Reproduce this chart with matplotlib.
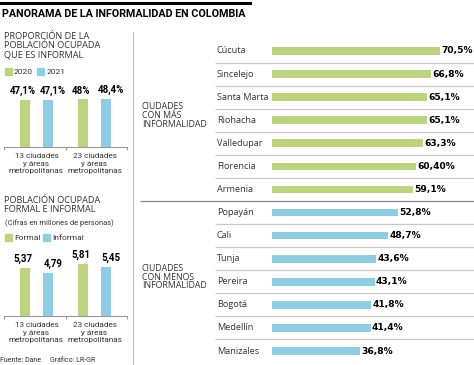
import matplotlib
matplotlib.use('Agg')
import matplotlib.pyplot as plt
import numpy as np

GREEN = '#bcd37f'
BLUE = '#8fcde3'
GREY = '#c8c8c8'

W, H = 474, 365

# left panel data
groups = ['13 ciudades\ny áreas\nmetropolitanas', '23 ciudades\ny áreas\nmetropolitanas']
inf_2020 = [47.1, 48.0]
inf_2021 = [47.1, 48.4]
inf_2020_lbl = ['47,1%', '48%']
inf_2021_lbl = ['47,1%', '48,4%']

formal = [5.37, 5.81]
informal = [4.79, 5.45]
formal_lbl = ['5,37', '5,81']
informal_lbl = ['4,79', '5,45']

# right panel data
cities_more = ['Cúcuta', 'Sincelejo', 'Santa Marta', 'Riohacha', 'Valledupar', 'Florencia', 'Armenia']
vals_more = [70.5, 66.8, 65.1, 65.1, 63.3, 60.4, 59.1]
lbl_more = ['70,5%', '66,8%', '65,1%', '65,1%', '63,3%', '60,40%', '59,1%']
cities_less = ['Popayán', 'Cali', 'Tunja', 'Pereira', 'Bogotá', 'Medellín', 'Manizales']
vals_less = [52.8, 48.7, 43.6, 43.1, 41.8, 41.4, 36.8]
lbl_less = ['52,8%', '48,7%', '43,6%', '43,1%', '41,8%', '41,4%', '36,8%']

SANS = ['Open Sans', 'DejaVu Sans']
NARROW = ['Liberation Sans Narrow', 'Roboto', 'DejaVu Sans']
BOLD = ['DejaVu Sans']
BOLD_NARROW = ['Liberation Sans Narrow', 'Roboto', 'DejaVu Sans']

fig = plt.figure(figsize=(W / 100, H / 100), dpi=100)


def px_axes(left, top, right, bottom):
    return fig.add_axes([left / W, 1 - bottom / H, (right - left) / W, (bottom - top) / H])


def ftext(x, y, s, **kw):
    fig.text(x / W, 1 - y / H, s, **kw)


def square(x, y, color):
    fig.patches.append(plt.Rectangle((x / W, 1 - (y + 7) / H), 7 / W, 7 / H, color=color,
                                     transform=fig.transFigure))


# header
fig.add_artist(plt.Line2D([0, 250 / W], [1 - 3 / H, 1 - 3 / H], color='black', lw=2.2))
ftext(2, 14, 'PANORAMA DE LA INFORMALIDAD EN COLOMBIA', family=['Roboto', 'DejaVu Sans'],
      weight='bold', fontsize=7.75, va='center', ha='left')
fig.add_artist(plt.Line2D([133 / W, 133 / W], [0, 1 - 32 / H], color='#bbbbbb', lw=0.8))


def small_bars(ax, a, b, la, lb, ymax):
    x = np.arange(len(groups))
    w, off = 0.172, 0.198
    ax.bar(x - off, a, w, color=GREEN)
    ax.bar(x + off, b, w, color=BLUE)
    for xi, v, s in zip(x - off, a, la):
        ax.annotate(s, (xi - 0.04, v), xytext=(0, 2.5), textcoords='offset points',
                    ha='center', va='bottom', family=BOLD_NARROW, weight='bold', fontsize=7)
    for xi, v, s in zip(x + off, b, lb):
        ax.annotate(s, (xi + 0.09, v), xytext=(0, 2.5), textcoords='offset points',
                    ha='center', va='bottom', family=BOLD_NARROW, weight='bold', fontsize=7)
    ax.set_xlim(-0.56, 1.56)
    ax.set_ylim(0, ymax)
    for sp in ['top', 'left', 'right']:
        ax.spines[sp].set_visible(False)
    ax.spines['bottom'].set_color('#999999')
    ax.spines['bottom'].set_linewidth(0.8)
    ax.set_yticks([])
    ax.set_xticks([-0.56, 0.5, 1.56])
    ax.set_xticklabels([])
    ax.tick_params(axis='x', length=2.5, color='#999999', width=0.8)
    for xi, g in zip(x, groups):
        ax.annotate(g, (xi, 0), xytext=(0, -4.5), textcoords='offset points',
                    ha='center', va='top', family=NARROW, fontsize=5.9, linespacing=1.3,
                    color='#333333', annotation_clip=False)


# panel 1
ftext(4, 46, 'PROPORCIÓN DE LA\nPOBLACIÓN OCUPADA\nQUE ES INFORMAL', family=SANS,
      fontsize=6.6, va='center', ha='left', linespacing=1.05, color='#333333')
square(5, 68, GREEN)
ftext(14, 72, '2020', family=NARROW, fontsize=6.0, va='center', color='#333333')
square(37, 68, BLUE)
ftext(47, 72, '2021', family=NARROW, fontsize=6.0, va='center', color='#333333')
ax1 = px_axes(4, 80, 127, 147)
small_bars(ax1, inf_2020, inf_2021, inf_2020_lbl, inf_2021_lbl, 67)

# panel 2
ftext(4, 205, 'POBLACIÓN OCUPADA\nFORMAL E INFORMAL', family=SANS,
      fontsize=6.6, va='center', ha='left', linespacing=1.05, color='#333333')
ftext(5, 223, '(Cifras en millones de personas)', family=NARROW, fontsize=5.4, va='center',
      color='#333333')
square(5, 234, GREEN)
ftext(14, 238, 'Formal', family=NARROW, fontsize=6.0, va='center', color='#333333')
square(43, 234, BLUE)
ftext(52, 238, 'Informal', family=NARROW, fontsize=6.0, va='center', color='#333333')
ax2 = px_axes(4, 248, 127, 316)
small_bars(ax2, formal, informal, formal_lbl, informal_lbl, 68 / 9)

ftext(0, 360, 'Fuente: Dane', family=NARROW, fontsize=5.0, va='center', color='#333333')
ftext(50, 360, 'Gráfico: LR-GR', family=NARROW, fontsize=5.0, va='center', color='#333333')

# right panel
cities = cities_more + cities_less
vals = vals_more + vals_less
lbls = lbl_more + lbl_less
colors = [GREEN] * len(cities_more) + [BLUE] * len(cities_less)
n = len(cities)

ax = px_axes(215, 51 - 11.54, 474, 351 + 11.54)
scale = 2.38
x0 = -(272 - 215) / scale
ax.set_xlim(x0, (474 - 272) / scale)
ax.set_ylim(n - 0.5, -0.5)
y = np.arange(n)
ax.barh(y, vals, height=0.33, color=colors)
for yi, v, s, c in zip(y, vals, lbls, cities):
    ax.text(v + 0.6, yi, s, va='center', ha='left', family=BOLD, weight='bold', fontsize=6.6)
    ax.text(x0 + 0.8, yi, c, va='center', ha='left', family=SANS, fontsize=6.6, color='#333333')
for i in range(n - 1):
    if i == len(cities_more) - 1:
        ax.hlines(i + 0.5, x0 - (215 - 140) / scale, ax.get_xlim()[1], color='#888888',
                  lw=0.9, clip_on=False)
    else:
        ax.hlines(i + 0.5, x0, ax.get_xlim()[1], color=GREY, lw=0.9)
ax.axis('off')

ax.text(x0 - (215 - 142) / scale, (len(cities_more) - 1) / 2 - 0.2,
        'CIUDADES\nCON MÁS\nINFORMALIDAD', family=SANS, fontsize=6.3, va='center',
        ha='left', linespacing=0.95, color='#333333', clip_on=False)
ax.text(x0 - (215 - 142) / scale, len(cities_more) + (len(cities_less) - 1) / 2 - 0.2,
        'CIUDADES\nCON MENOS\nINFORMALIDAD', family=SANS, fontsize=6.3, va='center',
        ha='left', linespacing=0.95, color='#333333', clip_on=False)

fig.savefig('out.png', dpi=100)
